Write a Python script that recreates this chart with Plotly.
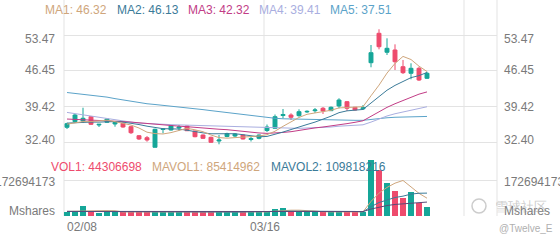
import plotly.graph_objects as go

W, H = 560, 240

# ---------------- data ----------------
x_labels = ["02/08", "03/16"]
price_ticks = [53.47, 46.45, 39.42, 32.40]
vol_tick = 172694173

opens = [35.38, 36.48, 36.62, 37.46, 35.83, 36.36, 36.03, 36.16, 35.50, 33.73,
         33.34, 31.46, 34.95, 34.85, 35.24, 35.64, 34.65, 33.87, 33.42, 32.69,
         33.58, 33.67, 33.87, 32.99, 33.22, 34.75, 35.18, 37.69, 37.79, 37.66,
         38.40, 38.63, 39.11, 38.64, 39.56, 40.40, 39.30, 39.00, 48.05, 53.81,
         50.09, 50.54, 47.26, 45.97, 46.95, 44.99]
highs = [36.28, 37.99, 39.22, 37.60, 36.03, 37.15, 36.42, 36.36, 35.69, 33.87,
         33.67, 35.11, 35.11, 35.83, 35.83, 35.73, 34.71, 33.97, 33.54, 33.87,
         34.32, 34.26, 33.97, 33.54, 33.97, 35.93, 37.89, 38.97, 38.13, 38.91,
         38.70, 39.16, 39.36, 39.46, 41.07, 40.54, 39.36, 39.75, 51.52, 54.60,
         52.83, 51.65, 48.58, 47.93, 47.26, 46.28]
lows = [35.05, 36.28, 36.22, 35.83, 35.44, 36.22, 35.50, 35.30, 34.07, 32.89,
        32.56, 31.46, 34.20, 34.75, 34.71, 34.65, 33.42, 33.09, 32.36, 32.05,
        33.42, 33.48, 32.99, 32.60, 33.03, 34.46, 35.05, 37.15, 36.81, 37.46,
        38.20, 38.18, 37.99, 38.58, 39.11, 38.58, 38.67, 38.77, 47.15, 50.67,
        49.56, 46.62, 45.83, 44.79, 44.46, 44.85]
closes = [36.09, 37.79, 37.15, 35.97, 35.97, 37.01, 36.36, 35.44, 34.32, 33.09,
          32.89, 34.99, 35.05, 35.69, 35.44, 34.71, 33.54, 33.22, 32.44, 32.89,
          34.16, 34.07, 33.09, 33.18, 33.87, 35.44, 37.46, 37.89, 37.34, 38.44,
          38.50, 38.78, 38.58, 39.30, 40.73, 39.11, 38.77, 39.20, 50.01, 51.18,
          50.87, 48.24, 46.09, 46.95, 44.65, 45.97]

ma1 = [36.0, 36.3, 36.5, 36.5, 36.59, 36.78, 36.49, 36.15, 35.82, 35.24,
       34.42, 34.15, 34.07, 34.34, 34.81, 35.18, 34.89, 34.52, 33.87, 33.36,
       33.25, 33.36, 33.33, 33.48, 33.67, 33.93, 34.61, 35.57, 36.40, 37.31,
       37.93, 38.19, 38.33, 38.72, 39.18, 39.30, 39.30, 39.42, 41.56, 43.65,
       46.01, 47.90, 49.28, 48.67, 47.36, 46.32]
ma2 = [36.2, 36.3, 36.4, 36.4, 36.4, 36.5, 36.5, 36.4, 36.2, 35.92,
       35.60, 35.32, 35.11, 35.08, 35.03, 34.80, 34.52, 34.29, 34.11, 34.09,
       34.21, 34.12, 33.93, 33.67, 33.52, 33.59, 33.98, 34.45, 34.94, 35.49,
       35.93, 36.40, 36.95, 37.56, 38.25, 38.61, 38.74, 38.88, 40.14, 41.42,
       42.65, 43.60, 44.35, 45.12, 45.51, 46.13]
ma3 = [37.0, 36.95, 36.9, 36.8, 36.7, 36.65, 36.6, 36.5, 36.4, 36.25,
       36.1, 35.95, 35.8, 35.7, 35.6, 35.5, 35.35, 35.2, 35.1, 35.00,
       34.91, 34.72, 34.52, 34.38, 34.27, 34.19, 34.25, 34.37, 34.52, 34.79,
       35.07, 35.26, 35.44, 35.62, 35.88, 36.10, 36.36, 36.66, 37.54, 38.46,
       39.29, 40.00, 40.65, 41.34, 41.88, 42.32]
ma4 = [38.3, 38.05, 37.8, 37.55, 37.3, 37.05, 36.8, 36.6, 36.4, 36.2,
       36.1, 36.0, 35.95, 35.9, 35.85, 35.8, 35.75, 35.7, 35.65, 35.6,
       35.55, 35.5, 35.45, 35.4, 35.3, 35.25, 35.2, 35.2, 35.15, 35.17,
       35.25, 35.28, 35.33, 35.44, 35.60, 35.67, 35.75, 35.87, 36.40, 37.00,
       37.60, 38.04, 38.41, 38.78, 39.09, 39.41]
ma5 = [42.2, 42.05, 41.9, 41.7, 41.5, 41.3, 41.0, 40.75, 40.45, 40.15,
       40.0, 39.85, 39.7, 39.55, 39.4, 39.25, 39.05, 38.85, 38.65, 38.45,
       38.25, 38.05, 37.85, 37.65, 37.45, 37.25, 37.15, 37.05, 37.0, 36.95,
       36.9, 36.85, 36.85, 36.8, 36.8, 36.75, 36.75, 36.75, 36.95, 37.1,
       37.25, 37.35, 37.4, 37.45, 37.48, 37.51]

volumes_m = [17.5, 20.5, 48, 24, 16, 20, 17.5, 20, 20, 19,
             19, 22, 17, 20, 17, 19, 19, 18, 20, 19,
             20, 18, 19, 18, 20, 25, 33, 37, 24, 20,
             20, 18, 19, 19, 22, 20, 19, 20, 268.6, 220.7,
             156.7, 121.6, 84.7, 116.7, 64.0, 44.306698]
mavol1_m = [22, 22, 23, 24, 25.2, 25.7, 25.1, 19.5, 18.7, 19.3,
            19.1, 20, 19.4, 19.4, 19, 19, 18.4, 18.6, 18.6, 19,
            19.2, 19, 19.2, 18.8, 19, 20, 23, 26.6, 27.8, 27.8,
            26.8, 23.8, 20.2, 19.2, 19.6, 19.6, 19.8, 20, 69.9, 109.7,
            137, 157.5, 170.5, 140.1, 108.7, 85.414962]
mavol2_m = [22, 22, 22, 22, 22, 22, 22, 22, 22, 22.3,
            22.4, 22.6, 19.5, 19.1, 19.2, 19.1, 19.2, 19, 19, 19,
            19.1, 18.7, 18.9, 18.7, 19, 19.6, 21, 22.9, 23.3, 23.4,
            23.4, 23.4, 23.4, 23.5, 23.7, 23.2, 21.8, 20.1, 44.6, 64.6,
            78.3, 88.7, 95.2, 105, 109.2, 109.818216]
mavol3_m = [22, 22, 22, 22, 22, 22, 22, 22, 22, 22,
            22, 22, 22, 21.5, 21, 20.5, 20.5, 20.5, 20.5, 20.5,
            20.5, 20.2, 20, 19.8, 19.7, 19.7, 20, 20.5, 21, 21,
            21, 21, 21, 21.2, 21.3, 21.3, 21.3, 21.3, 33.4, 43.4,
            50.2, 55.4, 58.7, 63.6, 65.8, 66.8]

# ---------------- style ----------------
TEAL = "#15a698"
RED = "#ee4b6d"
C_MA1 = "#cfa67c"
C_MA2 = "#3b7b99"
C_MA3 = "#c23c86"
C_MA4 = "#a9aee0"
C_MA5 = "#5ba3c9"
C_MAV3 = "#5a4a78"
GRID = "#e3e3e3"
TXT = "#7a7a7a"
FONT = "Liberation Sans, Arial, sans-serif"

idx = list(range(len(closes)))
volumes = [v * 1e6 for v in volumes_m]
bar_colors = [TEAL if c >= o else RED for o, c in zip(opens, closes)]


def px(x):
    return x / W


def py(y):
    return 1 - y / H


X0, X1 = 64, 497
xr = [-0.375, -0.375 + (X1 - X0) / 8.0]
xdom = [px(X0), px(X1)]

fig = go.Figure()

# volume panel (x / y)
fig.add_trace(go.Bar(x=idx, y=volumes, marker=dict(color=bar_colors, line=dict(width=0)),
                     width=0.72, xaxis="x", yaxis="y", hoverinfo="skip"))
for arr, col in [(mavol1_m, C_MA1), (mavol2_m, C_MA2), (mavol3_m, C_MAV3)]:
    fig.add_trace(go.Scatter(x=idx, y=[v * 1e6 for v in arr], mode="lines",
                             line=dict(color=col, width=1), xaxis="x", yaxis="y",
                             hoverinfo="skip"))

# price panel (x2 / y2)
for arr, col in [(ma5, C_MA5), (ma4, C_MA4), (ma3, C_MA3), (ma2, C_MA2), (ma1, C_MA1)]:
    fig.add_trace(go.Scatter(x=idx, y=arr, mode="lines", line=dict(color=col, width=1),
                             xaxis="x2", yaxis="y2", hoverinfo="skip"))
fig.add_trace(go.Candlestick(
    x=idx, open=opens, high=highs, low=lows, close=closes,
    increasing=dict(line=dict(color=TEAL, width=1), fillcolor=TEAL),
    decreasing=dict(line=dict(color=RED, width=1), fillcolor=RED),
    xaxis="x2", yaxis="y2", hoverinfo="skip"))

# price axis mapping: y=142.5px -> 32.40, 5.1 px per unit
def p_at(ypix):
    return 32.40 + (142.5 - ypix) / 5.1

MAIN_T, MAIN_B = 18, 150
VOL_T, VOL_B = 158, 216
vol_top = (VOL_B - VOL_T) / 36.0 * vol_tick

fig.update_layout(
    width=W, height=H, margin=dict(l=0, r=0, t=0, b=0),
    paper_bgcolor="white", plot_bgcolor="white", showlegend=False,
    bargap=0,
    xaxis=dict(domain=xdom, range=xr, anchor="y", showticklabels=False, showgrid=False,
               zeroline=False, showline=False, fixedrange=True),
    xaxis2=dict(domain=xdom, range=xr, anchor="y2", showticklabels=False, showgrid=False,
                zeroline=False, showline=False, rangeslider=dict(visible=False)),
    yaxis=dict(domain=[py(VOL_B), py(VOL_T)], range=[0, vol_top], tickvals=[0, vol_tick],
               showticklabels=False, showgrid=True, gridcolor=GRID, gridwidth=1,
               zeroline=False, showline=False),
    yaxis2=dict(domain=[py(MAIN_B), py(MAIN_T)], range=[p_at(MAIN_B), p_at(MAIN_T)],
                tickvals=price_ticks, showticklabels=False, showgrid=True,
                gridcolor=GRID, gridwidth=1, zeroline=False, showline=False),
)

# vertical separator lines
shapes = []
for xv in [64, 264, 464, 497]:
    shapes.append(dict(type="line", xref="paper", yref="paper", x0=px(xv), x1=px(xv),
                       y0=py(216), y1=1, line=dict(color=GRID, width=1), layer="below"))
fig.update_layout(shapes=shapes)

ann = []


def text(x, y, s, color=TXT, size=12, xanchor="left"):
    ann.append(dict(x=px(x), y=py(y), xref="paper", yref="paper", text=s, showarrow=False,
                    xanchor=xanchor, yanchor="middle",
                    font=dict(family=FONT, size=size, color=color)))

# MA legend
for xs, s, c in [(43, "MA1: 46.32", C_MA1), (115, "MA2: 46.13", C_MA2), (186, "MA3: 42.32", C_MA3),
                 (257, "MA4: 39.41", C_MA4), (328, "MA5: 37.51", C_MA5)]:
    text(xs, 10, s, c)
# volume legend
for xs, s, c in [(49, "VOL1: 44306698", RED), (150, "MAVOL1: 85414962", C_MA1),
                 (269, "MAVOL2: 109818216", C_MA2)]:
    text(xs, 166.5, s, c)

# price labels left / right
for val, yy in zip(price_ticks, [38.5, 70.5, 106.5, 139.5]):
    text(57, yy, f"{val:.2f}", xanchor="right")
    text(502, yy, f"{val:.2f}")
# volume labels
text(57, 182, str(vol_tick), xanchor="right")
text(502, 182, str(vol_tick))
text(57, 211, "Mshares", xanchor="right")
text(502, 211, "Mshares")
# date labels
text(65, 227, x_labels[0])
text(264.5, 227, x_labels[1], xanchor="center")
# watermark
text(493, 206, "雪球社区", color="rgba(170,170,170,0.6)", size=13)
text(497, 228, "@Twelve_E", color="#b0b0b0", size=10)
fig.update_layout(annotations=ann)
fig.add_shape(type="circle", xref="paper", yref="paper", x0=px(472), x1=px(486),
              y0=py(213), y1=py(199), line=dict(color="rgba(170,170,170,0.6)", width=1.5))

fig.write_html("out.html")
